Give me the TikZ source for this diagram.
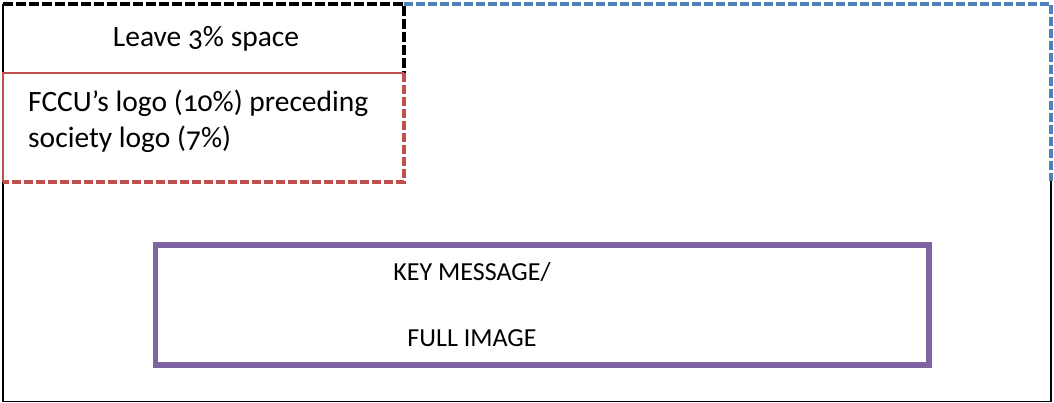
\documentclass[tikz,border=0pt]{standalone}
\usepackage{fontspec}
\setmainfont[Numbers=OldStyle]{Carlito}
\definecolor{offblue}{HTML}{4F81BD}
\definecolor{offred}{HTML}{C0504D}
\definecolor{offpurple}{HTML}{8064A2}
\tikzset{
  frameline/.style={draw=black, line width=1.3pt},
  blackdash/.style={draw=black, line width=3.2pt, dash pattern=on 10pt off 3pt},
  reddash/.style={draw=offred, line width=3.2pt, dash pattern=on 9pt off 3pt},
  bluedash/.style={draw=offblue, line width=3.2pt, dash pattern=on 9pt off 3pt},
  txt/.style={font=\fontsize{29.5}{36}\selectfont, inner sep=0pt},
  keytxt/.style={font=\fontsize{26}{30}\selectfont, inner sep=0pt},
  keybox/.style={draw=offpurple, line width=5.5pt},
}
\begin{document}
\begin{tikzpicture}[x=1pt,y=1pt]
\useasboundingbox (0,0) rectangle (1054,402);
% outer frame parts
\coordinate (otl) at (3,398);
\coordinate (obl) at (3,0.6);
\coordinate (obr) at (1051,0.6);
\coordinate (omr) at (1051,221);
\draw[frameline] (omr) -- (obr) -- (obl) -- (otl);
% blue dashed top-right
\coordinate (btl) at (404,398);
\coordinate (btr) at (1051,398);
\draw[bluedash] (btl) -- (btr) -- (omr);
% black dashed "leave space" box
\coordinate (ktr) at (404,398);
\coordinate (kbr) at (404,329);
\draw[blackdash] (otl) -- (ktr) -- (kbr);
% red logo box
\coordinate (rtl) at (3,329);
\coordinate (rbl) at (3,220);
\coordinate (rbr) at (404,220);
\draw[draw=offred, line width=1.6pt] (rbl) -- (rtl) -- (kbr);
\draw[reddash] (kbr) -- (rbr) -- (rbl);
% purple key message box
\draw[keybox] (155.5,37) rectangle (929,157);
% texts
\node[txt, anchor=base] (leave) at (206,355) {Leave 3\% space};
\node[txt, anchor=base west] (logo1) at (28,290) {FCCU’s logo (10\%) preceding};
\node[txt, anchor=base west] (logo2) at (28,254) {society logo (7\%)};
\node[keytxt, anchor=base] (key) at (472,122) {KEY MESSAGE/};
\node[keytxt, anchor=base] (full) at (472,56) {FULL IMAGE};
\end{tikzpicture}
\end{document}
